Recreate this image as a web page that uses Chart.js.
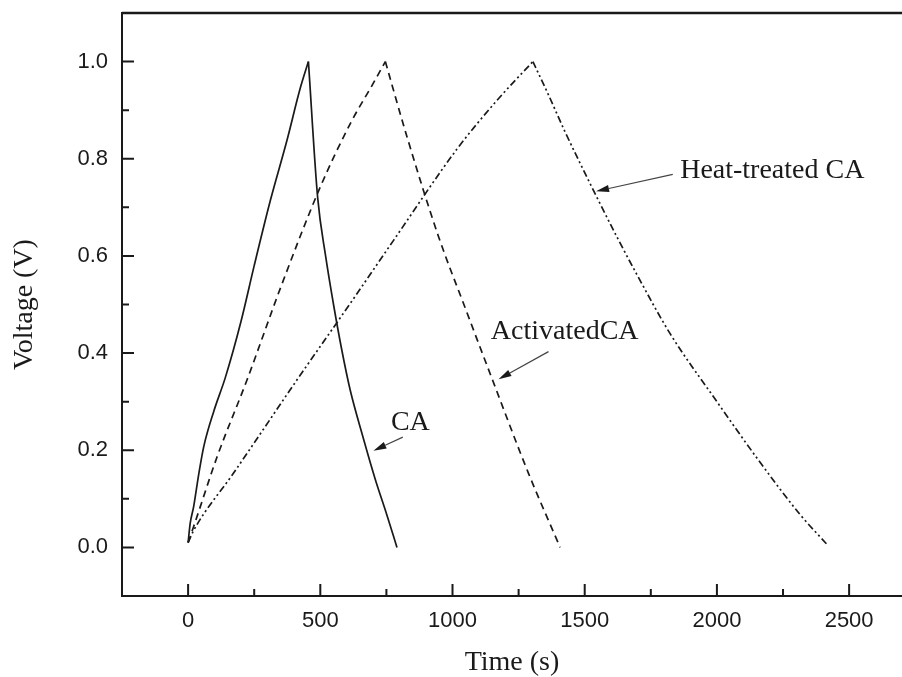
<!DOCTYPE html>
<html>
<head>
<meta charset="utf-8">
<script src="https://cdn.jsdelivr.net/npm/chart.js"></script>
<style>
  html, body { margin: 0; padding: 0; background: #fff; overflow: hidden; }
  #wrap { width: 902px; height: 677px; }
</style>
</head>
<body>
<div id="wrap"><canvas id="chart" width="902" height="677"></canvas></div>
<script>
// galvanostatic charge/discharge curves
const caTime   = [0, 8, 21, 40, 59, 97, 141, 200, 250, 311, 374, 424, 455, 490, 520, 550, 580, 613, 660, 708, 750, 790];
const caVolt   = [0.01, 0.05, 0.084, 0.15, 0.207, 0.28, 0.35, 0.465, 0.58, 0.714, 0.838, 0.945, 1.0, 0.72, 0.6, 0.5, 0.41, 0.324, 0.23, 0.14, 0.07, 0.0];

const actTime  = [0, 21, 110, 223, 350, 500, 613, 700, 746, 828, 947, 1050, 1142, 1287, 1407];
const actVolt  = [0.01, 0.043, 0.187, 0.345, 0.535, 0.742, 0.872, 0.955, 1.0, 0.845, 0.64, 0.49, 0.358, 0.153, 0.0];

const heatTime = [0, 21, 172, 412, 613, 777, 1017, 1168, 1304, 1360, 1426, 1533, 1621, 1697, 1823, 2000, 2150, 2314, 2415];
const heatVolt = [0.01, 0.035, 0.153, 0.345, 0.502, 0.632, 0.82, 0.92, 1.0, 0.935, 0.855, 0.735, 0.64, 0.562, 0.44, 0.30, 0.185, 0.068, 0.007];

const xMajor = [0, 500, 1000, 1500, 2000, 2500];
const xMinor = [250, 750, 1250, 1750, 2250];
const yMajor = [0.0, 0.2, 0.4, 0.6, 0.8, 1.0];
const yMinor = [0.1, 0.3, 0.5, 0.7, 0.9];

// label text, where the text starts (time, volt), arrow tail and arrow tip
const noteText  = ['CA', 'ActivatedCA', 'Heat-treated CA'];
const noteAt    = [[767, 0.242], [1145, 0.430], [1861, 0.761]];
const noteFrom  = [[812, 0.227], [1363, 0.403], [1833, 0.768]];
const noteTo    = [[701, 0.199], [1174, 0.346], [1543, 0.733]];

const ink = '#1a1a1a';
const serif = "'Liberation Serif', 'Times New Roman', serif";
const sans = "'Liberation Sans', Arial, sans-serif";

function toPoints(xs, ys) {
    return xs.map((x, i) => ({ x: x, y: ys[i] }));
}

// charge and discharge halves are drawn as two smooth pieces meeting at the 1.0 V corner
function series(label, xs, ys, dash) {
    const pts = toPoints(xs, ys);
    const peak = ys.indexOf(Math.max(...ys));
    const style = {
        showLine: true,
        borderColor: ink,
        borderWidth: 1.7,
        borderDash: dash,
        pointRadius: 0,
        cubicInterpolationMode: 'monotone',
        fill: false
    };
    return [
        { ...style, label: label + ' charge', data: pts.slice(0, peak + 1) },
        { ...style, label: label + ' discharge', data: pts.slice(peak) }
    ];
}

// inward tick marks, top frame line, arrow notes
const decorations = {
    id: 'decorations',
    afterDraw(chart) {
        const ctx = chart.ctx;
        const xs = chart.scales.x, ys = chart.scales.y;
        const area = chart.chartArea;
        ctx.save();
        ctx.strokeStyle = ink;
        ctx.lineWidth = 2;
        ctx.beginPath();
        const xTick = (v, len) => {
            const px = xs.getPixelForValue(v);
            ctx.moveTo(px, area.bottom);
            ctx.lineTo(px, area.bottom - len);
        };
        const yTick = (v, len) => {
            const py = ys.getPixelForValue(v);
            ctx.moveTo(area.left, py);
            ctx.lineTo(area.left + len, py);
        };
        xMajor.forEach(v => xTick(v, 12));
        xMinor.forEach(v => xTick(v, 7));
        yMajor.forEach(v => yTick(v, 12));
        yMinor.forEach(v => yTick(v, 7));
        ctx.stroke();

        ctx.lineWidth = 2.5;
        ctx.beginPath();
        ctx.moveTo(area.left, area.top);
        ctx.lineTo(area.right, area.top);
        ctx.stroke();

        ctx.font = '28px ' + serif;
        ctx.fillStyle = ink;
        ctx.textBaseline = 'alphabetic';
        ctx.textAlign = 'left';
        noteText.forEach((txt, i) => {
            ctx.fillText(txt, xs.getPixelForValue(noteAt[i][0]), ys.getPixelForValue(noteAt[i][1]));

            const x0 = xs.getPixelForValue(noteFrom[i][0]), y0 = ys.getPixelForValue(noteFrom[i][1]);
            const x1 = xs.getPixelForValue(noteTo[i][0]), y1 = ys.getPixelForValue(noteTo[i][1]);
            const ang = Math.atan2(y1 - y0, x1 - x0);
            const head = 13, half = 3.5;
            const bx = x1 - head * Math.cos(ang), by = y1 - head * Math.sin(ang);
            ctx.strokeStyle = '#444';
            ctx.lineWidth = 1.2;
            ctx.beginPath();
            ctx.moveTo(x0, y0);
            ctx.lineTo(bx, by);
            ctx.stroke();
            ctx.beginPath();
            ctx.moveTo(x1, y1);
            ctx.lineTo(bx + half * Math.sin(ang), by - half * Math.cos(ang));
            ctx.lineTo(bx - half * Math.sin(ang), by + half * Math.cos(ang));
            ctx.closePath();
            ctx.fill();
        });
        ctx.restore();
    }
};

new Chart(document.getElementById('chart'), {
    type: 'scatter',
    data: {
        datasets: [
            ...series('CA', caTime, caVolt, []),
            ...series('ActivatedCA', actTime, actVolt, [7, 5]),
            ...series('Heat-treated CA', heatTime, heatVolt, [7, 3, 2, 3, 2, 3])
        ]
    },
    options: {
        responsive: false,
        animation: false,
        layout: { padding: { top: 13, left: 0, right: 0, bottom: 0 } },
        plugins: {
            legend: { display: false },
            tooltip: { enabled: false }
        },
        scales: {
            x: {
                type: 'linear',
                min: -250,
                max: 2700,
                afterBuildTicks: (s) => { s.ticks = xMajor.map(v => ({ value: v })); },
                afterFit: (s) => { s.height = 81; s.paddingLeft = 0; s.paddingRight = 0; },
                grid: { display: false, drawTicks: false },
                border: { display: true, color: ink, width: 2 },
                ticks: {
                    color: ink,
                    padding: 12,
                    maxRotation: 0,
                    font: { family: sans, size: 22 },
                    callback: (v) => String(v)
                },
                title: {
                    display: true,
                    text: 'Time (s)',
                    color: ink,
                    padding: { top: 0, bottom: 0 },
                    font: { family: serif, size: 28, lineHeight: 1 }
                }
            },
            y: {
                type: 'linear',
                min: -0.1,
                max: 1.1,
                afterBuildTicks: (s) => { s.ticks = yMajor.map(v => ({ value: v })); },
                afterFit: (s) => { s.width = 122; s.paddingTop = 0; s.paddingBottom = 0; },
                grid: { display: false, drawTicks: false },
                border: { display: true, color: ink, width: 2 },
                ticks: {
                    color: ink,
                    padding: 14,
                    font: { family: sans, size: 22 },
                    callback: (v) => Number(v).toFixed(1)
                },
                title: {
                    display: true,
                    text: 'Voltage (V)',
                    color: ink,
                    padding: { top: 11, bottom: 0 },
                    font: { family: serif, size: 28, lineHeight: 1 }
                }
            }
        }
    },
    plugins: [decorations]
});
</script>
</body>
</html>
